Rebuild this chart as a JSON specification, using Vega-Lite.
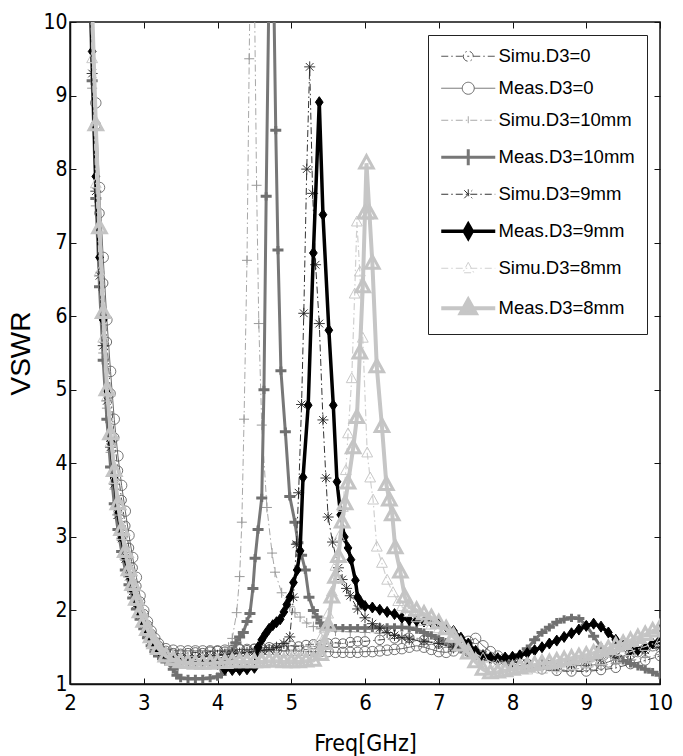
{
"$schema":"https://vega.github.io/schema/vega-lite/v6.json",
"width":590,"height":662,
"autosize":{"type":"none"},
"padding":{"left":70,"top":22,"right":23,"bottom":72},
"background":"white",
"config":{"view":{"stroke":"#111","strokeWidth":1.5},"axis":{"grid":false,"domainColor":"#111","domainWidth":1.5,"tickColor":"#111","labelColor":"black","titleColor":"black","titleFontWeight":"normal","labelOverlap":false}},
"data":{"values":[
{"s":"S0","f":2.25,"v":11.8},{"s":"S0","f":2.3,"v":10.1},{"s":"S0","f":2.35,"v":8.6},{"s":"S0","f":2.4,"v":7.4},{"s":"S0","f":2.45,"v":6.45},{"s":"S0","f":2.5,"v":5.65},{"s":"S0","f":2.55,"v":4.95},{"s":"S0","f":2.6,"v":4.35},{"s":"S0","f":2.65,"v":3.9},{"s":"S0","f":2.7,"v":3.5},{"s":"S0","f":2.75,"v":3.15},{"s":"S0","f":2.8,"v":2.85},{"s":"S0","f":2.85,"v":2.58},{"s":"S0","f":2.9,"v":2.33},{"s":"S0","f":2.95,"v":2.12},{"s":"S0","f":3,"v":1.95},{"s":"S0","f":3.05,"v":1.8},{"s":"S0","f":3.1,"v":1.68},{"s":"S0","f":3.15,"v":1.58},{"s":"S0","f":3.2,"v":1.52},{"s":"S0","f":3.3,"v":1.45},{"s":"S0","f":3.4,"v":1.42},{"s":"S0","f":3.5,"v":1.41},{"s":"S0","f":3.6,"v":1.42},{"s":"S0","f":3.7,"v":1.43},{"s":"S0","f":3.8,"v":1.42},{"s":"S0","f":3.9,"v":1.44},{"s":"S0","f":4,"v":1.45},{"s":"S0","f":4.1,"v":1.44},{"s":"S0","f":4.2,"v":1.46},{"s":"S0","f":4.3,"v":1.47},{"s":"S0","f":4.4,"v":1.46},{"s":"S0","f":4.5,"v":1.48},{"s":"S0","f":4.6,"v":1.49},{"s":"S0","f":4.7,"v":1.5},{"s":"S0","f":4.8,"v":1.49},{"s":"S0","f":4.9,"v":1.51},{"s":"S0","f":5,"v":1.52},{"s":"S0","f":5.1,"v":1.51},{"s":"S0","f":5.2,"v":1.53},{"s":"S0","f":5.3,"v":1.54},{"s":"S0","f":5.4,"v":1.53},{"s":"S0","f":5.5,"v":1.55},{"s":"S0","f":5.6,"v":1.56},{"s":"S0","f":5.7,"v":1.55},{"s":"S0","f":5.8,"v":1.57},{"s":"S0","f":5.9,"v":1.58},{"s":"S0","f":6,"v":1.58},{"s":"S0","f":6.2,"v":1.6},{"s":"S0","f":6.4,"v":1.62},{"s":"S0","f":6.6,"v":1.63},{"s":"S0","f":6.8,"v":1.6},{"s":"S0","f":7,"v":1.55},{"s":"S0","f":7.2,"v":1.5},{"s":"S0","f":7.4,"v":1.44},{"s":"S0","f":7.6,"v":1.38},{"s":"S0","f":7.8,"v":1.32},{"s":"S0","f":8,"v":1.27},{"s":"S0","f":8.2,"v":1.23},{"s":"S0","f":8.4,"v":1.2},{"s":"S0","f":8.6,"v":1.18},{"s":"S0","f":8.8,"v":1.17},{"s":"S0","f":9,"v":1.17},{"s":"S0","f":9.2,"v":1.19},{"s":"S0","f":9.4,"v":1.22},{"s":"S0","f":9.6,"v":1.27},{"s":"S0","f":9.8,"v":1.32},{"s":"S0","f":10,"v":1.38},
{"s":"M0","f":2.25,"v":12},{"s":"M0","f":2.3,"v":10.4},{"s":"M0","f":2.35,"v":8.9},{"s":"M0","f":2.4,"v":7.75},{"s":"M0","f":2.45,"v":6.8},{"s":"M0","f":2.5,"v":5.95},{"s":"M0","f":2.55,"v":5.25},{"s":"M0","f":2.6,"v":4.6},{"s":"M0","f":2.65,"v":4.1},{"s":"M0","f":2.7,"v":3.7},{"s":"M0","f":2.75,"v":3.35},{"s":"M0","f":2.8,"v":3.02},{"s":"M0","f":2.85,"v":2.72},{"s":"M0","f":2.9,"v":2.45},{"s":"M0","f":2.95,"v":2.2},{"s":"M0","f":3,"v":2},{"s":"M0","f":3.05,"v":1.85},{"s":"M0","f":3.1,"v":1.72},{"s":"M0","f":3.15,"v":1.62},{"s":"M0","f":3.2,"v":1.55},{"s":"M0","f":3.3,"v":1.48},{"s":"M0","f":3.4,"v":1.46},{"s":"M0","f":3.5,"v":1.45},{"s":"M0","f":3.6,"v":1.45},{"s":"M0","f":3.7,"v":1.45},{"s":"M0","f":3.8,"v":1.45},{"s":"M0","f":3.9,"v":1.45},{"s":"M0","f":4,"v":1.45},{"s":"M0","f":4.1,"v":1.46},{"s":"M0","f":4.2,"v":1.46},{"s":"M0","f":4.3,"v":1.47},{"s":"M0","f":4.4,"v":1.47},{"s":"M0","f":4.5,"v":1.47},{"s":"M0","f":4.6,"v":1.46},{"s":"M0","f":4.7,"v":1.46},{"s":"M0","f":4.8,"v":1.46},{"s":"M0","f":4.9,"v":1.45},{"s":"M0","f":5,"v":1.45},{"s":"M0","f":5.1,"v":1.45},{"s":"M0","f":5.2,"v":1.44},{"s":"M0","f":5.3,"v":1.44},{"s":"M0","f":5.4,"v":1.44},{"s":"M0","f":5.5,"v":1.44},{"s":"M0","f":5.6,"v":1.43},{"s":"M0","f":5.7,"v":1.43},{"s":"M0","f":5.8,"v":1.43},{"s":"M0","f":5.9,"v":1.43},{"s":"M0","f":6,"v":1.44},{"s":"M0","f":6.1,"v":1.44},{"s":"M0","f":6.2,"v":1.45},{"s":"M0","f":6.3,"v":1.46},{"s":"M0","f":6.4,"v":1.47},{"s":"M0","f":6.5,"v":1.48},{"s":"M0","f":6.6,"v":1.5},{"s":"M0","f":6.7,"v":1.52},{"s":"M0","f":6.8,"v":1.5},{"s":"M0","f":6.9,"v":1.47},{"s":"M0","f":7,"v":1.44},{"s":"M0","f":7.1,"v":1.43},{"s":"M0","f":7.2,"v":1.45},{"s":"M0","f":7.3,"v":1.52},{"s":"M0","f":7.4,"v":1.58},{"s":"M0","f":7.5,"v":1.62},{"s":"M0","f":7.6,"v":1.52},{"s":"M0","f":7.7,"v":1.44},{"s":"M0","f":7.8,"v":1.38},{"s":"M0","f":7.9,"v":1.33},{"s":"M0","f":8,"v":1.3},{"s":"M0","f":8.1,"v":1.28},{"s":"M0","f":8.2,"v":1.27},{"s":"M0","f":8.3,"v":1.26},{"s":"M0","f":8.4,"v":1.26},{"s":"M0","f":8.5,"v":1.25},{"s":"M0","f":8.6,"v":1.25},{"s":"M0","f":8.7,"v":1.25},{"s":"M0","f":8.8,"v":1.25},{"s":"M0","f":8.9,"v":1.25},{"s":"M0","f":9,"v":1.25},{"s":"M0","f":9.1,"v":1.26},{"s":"M0","f":9.2,"v":1.27},{"s":"M0","f":9.3,"v":1.3},{"s":"M0","f":9.4,"v":1.34},{"s":"M0","f":9.5,"v":1.38},{"s":"M0","f":9.6,"v":1.41},{"s":"M0","f":9.7,"v":1.44},{"s":"M0","f":9.8,"v":1.48},{"s":"M0","f":9.9,"v":1.52},{"s":"M0","f":10,"v":1.56},
{"s":"S10","f":2.25,"v":11},{"s":"S10","f":2.3,"v":9.1},{"s":"S10","f":2.35,"v":7.5},{"s":"S10","f":2.4,"v":6.4},{"s":"S10","f":2.45,"v":5.5},{"s":"S10","f":2.5,"v":4.75},{"s":"S10","f":2.55,"v":4.15},{"s":"S10","f":2.6,"v":3.65},{"s":"S10","f":2.65,"v":3.25},{"s":"S10","f":2.7,"v":2.95},{"s":"S10","f":2.75,"v":2.68},{"s":"S10","f":2.8,"v":2.45},{"s":"S10","f":2.85,"v":2.25},{"s":"S10","f":2.9,"v":2.08},{"s":"S10","f":2.95,"v":1.93},{"s":"S10","f":3,"v":1.8},{"s":"S10","f":3.05,"v":1.68},{"s":"S10","f":3.1,"v":1.58},{"s":"S10","f":3.15,"v":1.5},{"s":"S10","f":3.2,"v":1.44},{"s":"S10","f":3.3,"v":1.37},{"s":"S10","f":3.4,"v":1.33},{"s":"S10","f":3.5,"v":1.31},{"s":"S10","f":3.6,"v":1.3},{"s":"S10","f":3.7,"v":1.3},{"s":"S10","f":3.8,"v":1.31},{"s":"S10","f":3.9,"v":1.33},{"s":"S10","f":4,"v":1.36},{"s":"S10","f":4.1,"v":1.42},{"s":"S10","f":4.15,"v":1.5},{"s":"S10","f":4.2,"v":1.62},{"s":"S10","f":4.26,"v":1.97},{"s":"S10","f":4.3,"v":2.46},{"s":"S10","f":4.33,"v":3.2},{"s":"S10","f":4.36,"v":4.6},{"s":"S10","f":4.4,"v":6.76},{"s":"S10","f":4.43,"v":9.5},{"s":"S10","f":4.47,"v":13},{"s":"S10","f":4.5,"v":10.5},{"s":"S10","f":4.53,"v":7.78},{"s":"S10","f":4.56,"v":5.9},{"s":"S10","f":4.6,"v":4.52},{"s":"S10","f":4.67,"v":3.4},{"s":"S10","f":4.74,"v":2.78},{"s":"S10","f":4.78,"v":2.52},{"s":"S10","f":4.87,"v":2.24},{"s":"S10","f":4.98,"v":2.05},{"s":"S10","f":5.05,"v":1.97},{"s":"S10","f":5.12,"v":1.91},{"s":"S10","f":5.21,"v":1.83},{"s":"S10","f":5.3,"v":1.78},{"s":"S10","f":5.4,"v":1.75},{"s":"S10","f":5.5,"v":1.73},{"s":"S10","f":5.6,"v":1.72},{"s":"S10","f":5.8,"v":1.71},{"s":"S10","f":6,"v":1.7},{"s":"S10","f":6.2,"v":1.69},{"s":"S10","f":6.4,"v":1.67},{"s":"S10","f":6.6,"v":1.65},{"s":"S10","f":6.8,"v":1.6},{"s":"S10","f":7,"v":1.55},{"s":"S10","f":7.2,"v":1.48},{"s":"S10","f":7.4,"v":1.42},{"s":"S10","f":7.6,"v":1.35},{"s":"S10","f":7.8,"v":1.3},{"s":"S10","f":8,"v":1.26},{"s":"S10","f":8.2,"v":1.23},{"s":"S10","f":8.4,"v":1.21},{"s":"S10","f":8.6,"v":1.2},{"s":"S10","f":8.8,"v":1.2},{"s":"S10","f":9,"v":1.22},{"s":"S10","f":9.2,"v":1.25},{"s":"S10","f":9.4,"v":1.28},{"s":"S10","f":9.6,"v":1.32},{"s":"S10","f":9.8,"v":1.36},{"s":"S10","f":10,"v":1.4},
{"s":"M10","f":2.25,"v":11},{"s":"M10","f":2.3,"v":9.2},{"s":"M10","f":2.35,"v":7.6},{"s":"M10","f":2.4,"v":6.4},{"s":"M10","f":2.45,"v":5.4},{"s":"M10","f":2.5,"v":4.6},{"s":"M10","f":2.55,"v":3.95},{"s":"M10","f":2.6,"v":3.45},{"s":"M10","f":2.65,"v":3.1},{"s":"M10","f":2.7,"v":2.8},{"s":"M10","f":2.75,"v":2.55},{"s":"M10","f":2.8,"v":2.35},{"s":"M10","f":2.85,"v":2.17},{"s":"M10","f":2.9,"v":2.02},{"s":"M10","f":2.95,"v":1.88},{"s":"M10","f":3,"v":1.75},{"s":"M10","f":3.05,"v":1.63},{"s":"M10","f":3.1,"v":1.52},{"s":"M10","f":3.15,"v":1.44},{"s":"M10","f":3.2,"v":1.38},{"s":"M10","f":3.3,"v":1.3},{"s":"M10","f":3.4,"v":1.2},{"s":"M10","f":3.45,"v":1.12},{"s":"M10","f":3.5,"v":1.08},{"s":"M10","f":3.6,"v":1.07},{"s":"M10","f":3.7,"v":1.07},{"s":"M10","f":3.8,"v":1.07},{"s":"M10","f":3.9,"v":1.08},{"s":"M10","f":4,"v":1.1},{"s":"M10","f":4.05,"v":1.13},{"s":"M10","f":4.1,"v":1.2},{"s":"M10","f":4.15,"v":1.32},{"s":"M10","f":4.2,"v":1.45},{"s":"M10","f":4.25,"v":1.56},{"s":"M10","f":4.3,"v":1.64},{"s":"M10","f":4.35,"v":1.7},{"s":"M10","f":4.4,"v":1.85},{"s":"M10","f":4.44,"v":1.96},{"s":"M10","f":4.48,"v":2.3},{"s":"M10","f":4.51,"v":2.71},{"s":"M10","f":4.55,"v":3.1},{"s":"M10","f":4.6,"v":3.53},{"s":"M10","f":4.63,"v":5},{"s":"M10","f":4.66,"v":7.63},{"s":"M10","f":4.7,"v":10.6},{"s":"M10","f":4.73,"v":12},{"s":"M10","f":4.76,"v":10.6},{"s":"M10","f":4.79,"v":8.53},{"s":"M10","f":4.82,"v":6.9},{"s":"M10","f":4.86,"v":5.26},{"s":"M10","f":4.92,"v":4.43},{"s":"M10","f":4.98,"v":3.55},{"s":"M10","f":5.05,"v":3.2},{"s":"M10","f":5.09,"v":2.92},{"s":"M10","f":5.14,"v":2.75},{"s":"M10","f":5.19,"v":2.55},{"s":"M10","f":5.24,"v":2.18},{"s":"M10","f":5.3,"v":2},{"s":"M10","f":5.35,"v":1.91},{"s":"M10","f":5.4,"v":1.83},{"s":"M10","f":5.45,"v":1.79},{"s":"M10","f":5.5,"v":1.77},{"s":"M10","f":5.6,"v":1.76},{"s":"M10","f":5.7,"v":1.76},{"s":"M10","f":5.8,"v":1.76},{"s":"M10","f":5.9,"v":1.76},{"s":"M10","f":6,"v":1.76},{"s":"M10","f":6.1,"v":1.76},{"s":"M10","f":6.2,"v":1.77},{"s":"M10","f":6.3,"v":1.77},{"s":"M10","f":6.4,"v":1.77},{"s":"M10","f":6.5,"v":1.77},{"s":"M10","f":6.6,"v":1.76},{"s":"M10","f":6.7,"v":1.74},{"s":"M10","f":6.8,"v":1.7},{"s":"M10","f":6.9,"v":1.66},{"s":"M10","f":7,"v":1.62},{"s":"M10","f":7.1,"v":1.57},{"s":"M10","f":7.2,"v":1.52},{"s":"M10","f":7.3,"v":1.47},{"s":"M10","f":7.4,"v":1.42},{"s":"M10","f":7.5,"v":1.38},{"s":"M10","f":7.6,"v":1.35},{"s":"M10","f":7.7,"v":1.33},{"s":"M10","f":7.8,"v":1.32},{"s":"M10","f":7.9,"v":1.33},{"s":"M10","f":8,"v":1.35},{"s":"M10","f":8.1,"v":1.4},{"s":"M10","f":8.2,"v":1.48},{"s":"M10","f":8.3,"v":1.6},{"s":"M10","f":8.4,"v":1.7},{"s":"M10","f":8.5,"v":1.77},{"s":"M10","f":8.6,"v":1.84},{"s":"M10","f":8.7,"v":1.88},{"s":"M10","f":8.8,"v":1.9},{"s":"M10","f":8.9,"v":1.89},{"s":"M10","f":9,"v":1.8},{"s":"M10","f":9.1,"v":1.65},{"s":"M10","f":9.2,"v":1.5},{"s":"M10","f":9.3,"v":1.42},{"s":"M10","f":9.4,"v":1.37},{"s":"M10","f":9.5,"v":1.32},{"s":"M10","f":9.6,"v":1.28},{"s":"M10","f":9.7,"v":1.24},{"s":"M10","f":9.8,"v":1.2},{"s":"M10","f":9.9,"v":1.16},{"s":"M10","f":10,"v":1.12},
{"s":"S9","f":2.25,"v":11.2},{"s":"S9","f":2.3,"v":9.3},{"s":"S9","f":2.35,"v":7.7},{"s":"S9","f":2.4,"v":6.55},{"s":"S9","f":2.45,"v":5.6},{"s":"S9","f":2.5,"v":4.85},{"s":"S9","f":2.55,"v":4.22},{"s":"S9","f":2.6,"v":3.72},{"s":"S9","f":2.65,"v":3.3},{"s":"S9","f":2.7,"v":2.98},{"s":"S9","f":2.75,"v":2.7},{"s":"S9","f":2.8,"v":2.46},{"s":"S9","f":2.85,"v":2.26},{"s":"S9","f":2.9,"v":2.09},{"s":"S9","f":2.95,"v":1.94},{"s":"S9","f":3,"v":1.81},{"s":"S9","f":3.05,"v":1.7},{"s":"S9","f":3.1,"v":1.6},{"s":"S9","f":3.15,"v":1.52},{"s":"S9","f":3.2,"v":1.46},{"s":"S9","f":3.3,"v":1.39},{"s":"S9","f":3.4,"v":1.36},{"s":"S9","f":3.5,"v":1.35},{"s":"S9","f":3.6,"v":1.35},{"s":"S9","f":3.7,"v":1.36},{"s":"S9","f":3.8,"v":1.37},{"s":"S9","f":3.9,"v":1.38},{"s":"S9","f":4,"v":1.39},{"s":"S9","f":4.1,"v":1.4},{"s":"S9","f":4.2,"v":1.41},{"s":"S9","f":4.3,"v":1.42},{"s":"S9","f":4.4,"v":1.43},{"s":"S9","f":4.5,"v":1.44},{"s":"S9","f":4.6,"v":1.45},{"s":"S9","f":4.7,"v":1.47},{"s":"S9","f":4.8,"v":1.5},{"s":"S9","f":4.9,"v":1.55},{"s":"S9","f":4.98,"v":1.64},{"s":"S9","f":5.03,"v":2.18},{"s":"S9","f":5.07,"v":2.9},{"s":"S9","f":5.1,"v":3.6},{"s":"S9","f":5.14,"v":4.8},{"s":"S9","f":5.17,"v":6.04},{"s":"S9","f":5.21,"v":8},{"s":"S9","f":5.25,"v":9.39},{"s":"S9","f":5.29,"v":7.67},{"s":"S9","f":5.33,"v":6.7},{"s":"S9","f":5.38,"v":5.9},{"s":"S9","f":5.43,"v":4.59},{"s":"S9","f":5.47,"v":3.8},{"s":"S9","f":5.5,"v":3.27},{"s":"S9","f":5.56,"v":2.93},{"s":"S9","f":5.64,"v":2.58},{"s":"S9","f":5.69,"v":2.42},{"s":"S9","f":5.75,"v":2.3},{"s":"S9","f":5.8,"v":2.2},{"s":"S9","f":5.9,"v":2.02},{"s":"S9","f":6,"v":1.9},{"s":"S9","f":6.1,"v":1.82},{"s":"S9","f":6.2,"v":1.76},{"s":"S9","f":6.3,"v":1.7},{"s":"S9","f":6.4,"v":1.66},{"s":"S9","f":6.5,"v":1.63},{"s":"S9","f":6.6,"v":1.61},{"s":"S9","f":6.8,"v":1.58},{"s":"S9","f":7,"v":1.55},{"s":"S9","f":7.2,"v":1.5},{"s":"S9","f":7.4,"v":1.45},{"s":"S9","f":7.6,"v":1.4},{"s":"S9","f":7.8,"v":1.35},{"s":"S9","f":8,"v":1.3},{"s":"S9","f":8.2,"v":1.27},{"s":"S9","f":8.4,"v":1.25},{"s":"S9","f":8.6,"v":1.25},{"s":"S9","f":8.8,"v":1.27},{"s":"S9","f":9,"v":1.3},{"s":"S9","f":9.2,"v":1.33},{"s":"S9","f":9.4,"v":1.37},{"s":"S9","f":9.6,"v":1.41},{"s":"S9","f":9.8,"v":1.46},{"s":"S9","f":10,"v":1.5},
{"s":"M9","f":2.25,"v":11.5},{"s":"M9","f":2.3,"v":9.6},{"s":"M9","f":2.35,"v":7.9},{"s":"M9","f":2.4,"v":6.8},{"s":"M9","f":2.45,"v":5.95},{"s":"M9","f":2.5,"v":5},{"s":"M9","f":2.55,"v":4.3},{"s":"M9","f":2.6,"v":3.8},{"s":"M9","f":2.65,"v":3.35},{"s":"M9","f":2.7,"v":3},{"s":"M9","f":2.75,"v":2.72},{"s":"M9","f":2.8,"v":2.48},{"s":"M9","f":2.85,"v":2.28},{"s":"M9","f":2.9,"v":2.1},{"s":"M9","f":2.95,"v":1.95},{"s":"M9","f":3,"v":1.82},{"s":"M9","f":3.05,"v":1.7},{"s":"M9","f":3.1,"v":1.6},{"s":"M9","f":3.15,"v":1.52},{"s":"M9","f":3.2,"v":1.46},{"s":"M9","f":3.3,"v":1.38},{"s":"M9","f":3.4,"v":1.34},{"s":"M9","f":3.5,"v":1.32},{"s":"M9","f":3.6,"v":1.31},{"s":"M9","f":3.7,"v":1.3},{"s":"M9","f":3.8,"v":1.3},{"s":"M9","f":3.9,"v":1.29},{"s":"M9","f":4,"v":1.27},{"s":"M9","f":4.1,"v":1.2},{"s":"M9","f":4.2,"v":1.19},{"s":"M9","f":4.3,"v":1.19},{"s":"M9","f":4.4,"v":1.2},{"s":"M9","f":4.5,"v":1.22},{"s":"M9","f":4.55,"v":1.5},{"s":"M9","f":4.6,"v":1.6},{"s":"M9","f":4.65,"v":1.68},{"s":"M9","f":4.7,"v":1.75},{"s":"M9","f":4.75,"v":1.8},{"s":"M9","f":4.8,"v":1.84},{"s":"M9","f":4.85,"v":1.88},{"s":"M9","f":4.9,"v":1.98},{"s":"M9","f":4.94,"v":2.08},{"s":"M9","f":4.98,"v":2.18},{"s":"M9","f":5.03,"v":2.38},{"s":"M9","f":5.08,"v":2.55},{"s":"M9","f":5.12,"v":2.81},{"s":"M9","f":5.16,"v":3.81},{"s":"M9","f":5.23,"v":4.79},{"s":"M9","f":5.3,"v":6.86},{"s":"M9","f":5.38,"v":8.91},{"s":"M9","f":5.43,"v":7.38},{"s":"M9","f":5.51,"v":5.81},{"s":"M9","f":5.57,"v":4.79},{"s":"M9","f":5.62,"v":3.75},{"s":"M9","f":5.67,"v":3.3},{"s":"M9","f":5.72,"v":3},{"s":"M9","f":5.77,"v":2.85},{"s":"M9","f":5.81,"v":2.69},{"s":"M9","f":5.87,"v":2.41},{"s":"M9","f":5.9,"v":2.18},{"s":"M9","f":5.95,"v":2.1},{"s":"M9","f":6,"v":2.06},{"s":"M9","f":6.1,"v":2.04},{"s":"M9","f":6.2,"v":2.01},{"s":"M9","f":6.3,"v":1.98},{"s":"M9","f":6.4,"v":1.95},{"s":"M9","f":6.5,"v":1.9},{"s":"M9","f":6.6,"v":1.87},{"s":"M9","f":6.7,"v":1.86},{"s":"M9","f":6.8,"v":1.85},{"s":"M9","f":6.9,"v":1.84},{"s":"M9","f":7,"v":1.83},{"s":"M9","f":7.1,"v":1.78},{"s":"M9","f":7.2,"v":1.72},{"s":"M9","f":7.3,"v":1.63},{"s":"M9","f":7.4,"v":1.55},{"s":"M9","f":7.5,"v":1.45},{"s":"M9","f":7.6,"v":1.38},{"s":"M9","f":7.7,"v":1.36},{"s":"M9","f":7.8,"v":1.35},{"s":"M9","f":7.9,"v":1.36},{"s":"M9","f":8,"v":1.37},{"s":"M9","f":8.1,"v":1.39},{"s":"M9","f":8.2,"v":1.42},{"s":"M9","f":8.3,"v":1.46},{"s":"M9","f":8.4,"v":1.5},{"s":"M9","f":8.5,"v":1.55},{"s":"M9","f":8.6,"v":1.59},{"s":"M9","f":8.7,"v":1.64},{"s":"M9","f":8.8,"v":1.69},{"s":"M9","f":8.9,"v":1.74},{"s":"M9","f":9,"v":1.79},{"s":"M9","f":9.1,"v":1.82},{"s":"M9","f":9.2,"v":1.78},{"s":"M9","f":9.3,"v":1.7},{"s":"M9","f":9.4,"v":1.6},{"s":"M9","f":9.5,"v":1.52},{"s":"M9","f":9.6,"v":1.47},{"s":"M9","f":9.7,"v":1.46},{"s":"M9","f":9.8,"v":1.5},{"s":"M9","f":9.9,"v":1.55},{"s":"M9","f":10,"v":1.6},
{"s":"S8","f":2.25,"v":11.3},{"s":"S8","f":2.3,"v":9.5},{"s":"S8","f":2.35,"v":7.8},{"s":"S8","f":2.4,"v":6.6},{"s":"S8","f":2.45,"v":5.7},{"s":"S8","f":2.5,"v":4.9},{"s":"S8","f":2.55,"v":4.28},{"s":"S8","f":2.6,"v":3.78},{"s":"S8","f":2.65,"v":3.35},{"s":"S8","f":2.7,"v":3.02},{"s":"S8","f":2.75,"v":2.74},{"s":"S8","f":2.8,"v":2.5},{"s":"S8","f":2.85,"v":2.29},{"s":"S8","f":2.9,"v":2.12},{"s":"S8","f":2.95,"v":1.97},{"s":"S8","f":3,"v":1.84},{"s":"S8","f":3.05,"v":1.72},{"s":"S8","f":3.1,"v":1.62},{"s":"S8","f":3.15,"v":1.54},{"s":"S8","f":3.2,"v":1.47},{"s":"S8","f":3.3,"v":1.39},{"s":"S8","f":3.4,"v":1.35},{"s":"S8","f":3.5,"v":1.33},{"s":"S8","f":3.6,"v":1.32},{"s":"S8","f":3.7,"v":1.32},{"s":"S8","f":3.8,"v":1.32},{"s":"S8","f":3.9,"v":1.33},{"s":"S8","f":4,"v":1.33},{"s":"S8","f":4.2,"v":1.34},{"s":"S8","f":4.4,"v":1.35},{"s":"S8","f":4.6,"v":1.36},{"s":"S8","f":4.8,"v":1.37},{"s":"S8","f":5,"v":1.39},{"s":"S8","f":5.1,"v":1.41},{"s":"S8","f":5.2,"v":1.45},{"s":"S8","f":5.3,"v":1.52},{"s":"S8","f":5.4,"v":1.62},{"s":"S8","f":5.45,"v":1.75},{"s":"S8","f":5.5,"v":1.95},{"s":"S8","f":5.55,"v":2.25},{"s":"S8","f":5.6,"v":2.6},{"s":"S8","f":5.65,"v":3},{"s":"S8","f":5.7,"v":3.4},{"s":"S8","f":5.74,"v":3.9},{"s":"S8","f":5.77,"v":4.4},{"s":"S8","f":5.82,"v":5.15},{"s":"S8","f":5.86,"v":6.3},{"s":"S8","f":5.89,"v":7.28},{"s":"S8","f":5.93,"v":6.6},{"s":"S8","f":5.97,"v":5.7},{"s":"S8","f":6.03,"v":4.14},{"s":"S8","f":6.07,"v":3.8},{"s":"S8","f":6.11,"v":3.5},{"s":"S8","f":6.16,"v":2.86},{"s":"S8","f":6.23,"v":2.64},{"s":"S8","f":6.3,"v":2.41},{"s":"S8","f":6.38,"v":2.24},{"s":"S8","f":6.45,"v":2.12},{"s":"S8","f":6.5,"v":2.05},{"s":"S8","f":6.6,"v":1.97},{"s":"S8","f":6.7,"v":1.9},{"s":"S8","f":6.8,"v":1.85},{"s":"S8","f":6.9,"v":1.8},{"s":"S8","f":7,"v":1.75},{"s":"S8","f":7.2,"v":1.62},{"s":"S8","f":7.4,"v":1.48},{"s":"S8","f":7.6,"v":1.35},{"s":"S8","f":7.8,"v":1.26},{"s":"S8","f":8,"v":1.2},{"s":"S8","f":8.2,"v":1.19},{"s":"S8","f":8.4,"v":1.2},{"s":"S8","f":8.6,"v":1.22},{"s":"S8","f":8.8,"v":1.25},{"s":"S8","f":9,"v":1.28},{"s":"S8","f":9.2,"v":1.32},{"s":"S8","f":9.4,"v":1.38},{"s":"S8","f":9.6,"v":1.44},{"s":"S8","f":9.8,"v":1.51},{"s":"S8","f":10,"v":1.58},
{"s":"M8","f":2.25,"v":12},{"s":"M8","f":2.3,"v":10.2},{"s":"M8","f":2.35,"v":8.6},{"s":"M8","f":2.4,"v":7.2},{"s":"M8","f":2.45,"v":6.05},{"s":"M8","f":2.5,"v":5},{"s":"M8","f":2.55,"v":4.4},{"s":"M8","f":2.6,"v":3.9},{"s":"M8","f":2.65,"v":3.45},{"s":"M8","f":2.7,"v":3.1},{"s":"M8","f":2.75,"v":2.8},{"s":"M8","f":2.8,"v":2.55},{"s":"M8","f":2.85,"v":2.35},{"s":"M8","f":2.9,"v":2.15},{"s":"M8","f":2.95,"v":1.98},{"s":"M8","f":3,"v":1.85},{"s":"M8","f":3.05,"v":1.74},{"s":"M8","f":3.1,"v":1.64},{"s":"M8","f":3.15,"v":1.56},{"s":"M8","f":3.2,"v":1.48},{"s":"M8","f":3.3,"v":1.38},{"s":"M8","f":3.4,"v":1.33},{"s":"M8","f":3.5,"v":1.3},{"s":"M8","f":3.6,"v":1.29},{"s":"M8","f":3.7,"v":1.28},{"s":"M8","f":3.8,"v":1.28},{"s":"M8","f":3.9,"v":1.28},{"s":"M8","f":4,"v":1.29},{"s":"M8","f":4.1,"v":1.29},{"s":"M8","f":4.2,"v":1.3},{"s":"M8","f":4.3,"v":1.3},{"s":"M8","f":4.4,"v":1.3},{"s":"M8","f":4.5,"v":1.3},{"s":"M8","f":4.6,"v":1.3},{"s":"M8","f":4.7,"v":1.31},{"s":"M8","f":4.8,"v":1.31},{"s":"M8","f":4.9,"v":1.3},{"s":"M8","f":5,"v":1.3},{"s":"M8","f":5.1,"v":1.3},{"s":"M8","f":5.2,"v":1.31},{"s":"M8","f":5.3,"v":1.32},{"s":"M8","f":5.4,"v":1.4},{"s":"M8","f":5.45,"v":1.55},{"s":"M8","f":5.5,"v":1.8},{"s":"M8","f":5.55,"v":2.18},{"s":"M8","f":5.6,"v":2.45},{"s":"M8","f":5.64,"v":2.73},{"s":"M8","f":5.69,"v":3.2},{"s":"M8","f":5.73,"v":3.45},{"s":"M8","f":5.77,"v":3.73},{"s":"M8","f":5.84,"v":4.21},{"s":"M8","f":5.89,"v":4.62},{"s":"M8","f":5.93,"v":5.5},{"s":"M8","f":5.97,"v":6.4},{"s":"M8","f":6,"v":7.4},{"s":"M8","f":6.02,"v":8.08},{"s":"M8","f":6.06,"v":7.4},{"s":"M8","f":6.1,"v":6.72},{"s":"M8","f":6.16,"v":5.31},{"s":"M8","f":6.23,"v":4.5},{"s":"M8","f":6.29,"v":3.71},{"s":"M8","f":6.33,"v":3.5},{"s":"M8","f":6.37,"v":3.3},{"s":"M8","f":6.41,"v":2.85},{"s":"M8","f":6.48,"v":2.52},{"s":"M8","f":6.54,"v":2.18},{"s":"M8","f":6.6,"v":2.05},{"s":"M8","f":6.7,"v":2},{"s":"M8","f":6.8,"v":1.95},{"s":"M8","f":6.9,"v":1.9},{"s":"M8","f":7,"v":1.83},{"s":"M8","f":7.1,"v":1.75},{"s":"M8","f":7.2,"v":1.65},{"s":"M8","f":7.3,"v":1.53},{"s":"M8","f":7.4,"v":1.42},{"s":"M8","f":7.5,"v":1.3},{"s":"M8","f":7.6,"v":1.2},{"s":"M8","f":7.7,"v":1.15},{"s":"M8","f":7.8,"v":1.16},{"s":"M8","f":7.9,"v":1.18},{"s":"M8","f":8,"v":1.2},{"s":"M8","f":8.1,"v":1.22},{"s":"M8","f":8.2,"v":1.24},{"s":"M8","f":8.3,"v":1.26},{"s":"M8","f":8.4,"v":1.28},{"s":"M8","f":8.5,"v":1.29},{"s":"M8","f":8.6,"v":1.31},{"s":"M8","f":8.7,"v":1.33},{"s":"M8","f":8.8,"v":1.35},{"s":"M8","f":8.9,"v":1.37},{"s":"M8","f":9,"v":1.39},{"s":"M8","f":9.1,"v":1.42},{"s":"M8","f":9.2,"v":1.45},{"s":"M8","f":9.3,"v":1.48},{"s":"M8","f":9.4,"v":1.52},{"s":"M8","f":9.5,"v":1.55},{"s":"M8","f":9.6,"v":1.59},{"s":"M8","f":9.7,"v":1.63},{"s":"M8","f":9.8,"v":1.67},{"s":"M8","f":9.9,"v":1.72},{"s":"M8","f":10,"v":1.76}
]},
"resolve":{"axis":{"x":"independent","y":"independent"}},
"layer":[
{
"encoding":{
"x":{"field":"f","type":"quantitative","scale":{"domain":[2,10],"nice":false,"zero":false},"axis":{"values":[2,3,4,5,6,7,8,9,10],"format":"d","title":"Freq[GHz]","tickSize":-6,"labelPadding":14,"titlePadding":19,"labelFontSize":22,"titleFontSize":23,"labelFont":"DejaVu Sans Condensed, Liberation Sans","titleFont":"DejaVu Sans Condensed, Liberation Sans","labelFlush":false}},
"y":{"field":"v","type":"quantitative","scale":{"domain":[1,10],"nice":false,"zero":false},"axis":{"values":[1,2,3,4,5,6,7,8,9,10],"format":"d","title":"VSWR","tickSize":-6,"labelPadding":9,"titlePadding":7,"labelFontSize":21,"titleFontSize":28,"labelFont":"DejaVu Sans Condensed, Liberation Sans","titleFont":"Liberation Sans"}}
},
"layer":[
{"transform":[{"filter":"datum.s==='S0'"}],"mark":{"type":"line","clip":true,"strokeWidth":1,"strokeDash":[7,3,1.5,3]},
"encoding":{"color":{"field":"s","type":"nominal","scale":{"domain":["S0","M0","S10","M10","S9","M9","S8","M8"],"range":["#555555","#6a6a6a","#a8a8a8","#777777","#333333","#000000","#d0d0d0","#c6c6c6"]},
"legend":{"title":null,"orient":"top-right","offset":13,"padding":12,"strokeColor":"#222","fillColor":"white","labelFont":"Liberation Sans","labelFontSize":18.5,"labelColor":"black","labelLimit":300,"symbolSize":400,"symbolOffset":19,"labelOffset":21,"rowPadding":13,
"labelExpr":"datum.value==='S0'?'Simu.D3=0':datum.value==='M0'?'Meas.D3=0':datum.value==='S10'?'Simu.D3=10mm':datum.value==='M10'?'Meas.D3=10mm':datum.value==='S9'?'Simu.D3=9mm':datum.value==='M9'?'Meas.D3=9mm':datum.value==='S8'?'Simu.D3=8mm':'Meas.D3=8mm'",
"encode":{"symbols":{"update":{
"shape":{"signal":"datum.value==='S0'?'M-2.7,0H-0.5M0.5,0H2.7M-0.5,0A0.5,0.5 0 1,0 0.5,0A0.5,0.5 0 1,0 -0.5,0M-0.1,0H0.1':datum.value==='M0'?'M-2.7,0H-0.6M0.6,0H2.7M-0.6,0A0.6,0.6 0 1,0 0.6,0A0.6,0.6 0 1,0 -0.6,0':datum.value==='S10'?'M-2.7,0H2.7M0,-0.4V0.4':datum.value==='M10'?'M-2.7,0H2.7M0,-0.8V0.8':datum.value==='S9'?'M-2.7,0H2.7M0,-0.5V0.5M-0.4,-0.4L0.4,0.4M-0.4,0.4L0.4,-0.4':datum.value==='M9'?'M-2.7,0H2.7M0,-0.7L0.4,0L0,0.7L-0.4,0Z':datum.value==='S8'?'M-2.7,0H2.7M0,-0.6L0.55,0.45L-0.55,0.45Z':'M-2.7,0H2.7M0,-0.85L0.75,0.5L-0.75,0.5Z'"},
"strokeDash":{"signal":"indexof(datum.value,'S')===0?[7,3,1.5,3]:[1,0]"},
"strokeWidth":{"signal":"datum.value==='M10'?3:datum.value==='M9'?3.5:datum.value==='M8'?4:1"},
"fill":{"signal":"datum.value==='M9'?'#000000':datum.value==='M8'?'#c6c6c6':'transparent'"},
"stroke":{"signal":"scale('color',datum.value)"},
"size":{"value":400},
"opacity":{"value":1}
}}}}}}},
{"transform":[{"filter":"datum.s==='S0'"}],"mark":{"type":"point","clip":true,"shape":"M-1,0A1,1 0 1,0 1,0A1,1 0 1,0 -1,0M-0.15,0H0.15","size":90,"filled":false,"stroke":"#444444","strokeWidth":0.8,"opacity":1}},
{"transform":[{"filter":"datum.s==='M0'"}],"mark":{"type":"line","clip":true,"strokeWidth":1},"encoding":{"color":{"field":"s","type":"nominal","scale":{"domain":["S0","M0","S10","M10","S9","M9","S8","M8"],"range":["#555555","#6a6a6a","#a8a8a8","#777777","#333333","#000000","#d0d0d0","#c6c6c6"]},"legend":null}}},
{"transform":[{"filter":"datum.s==='M0'"}],"mark":{"type":"point","clip":true,"shape":"circle","size":110,"filled":false,"stroke":"#555555","strokeWidth":0.8,"opacity":1}},
{"transform":[{"filter":"datum.s==='S10'"}],"mark":{"type":"line","clip":true,"strokeWidth":1,"strokeDash":[7,3,1.5,3]},"encoding":{"color":{"field":"s","type":"nominal","scale":{"domain":["S0","M0","S10","M10","S9","M9","S8","M8"],"range":["#555555","#6a6a6a","#a8a8a8","#777777","#333333","#000000","#d0d0d0","#c6c6c6"]},"legend":null}}},
{"transform":[{"filter":"datum.s==='S10'"}],"mark":{"type":"point","clip":true,"shape":"M-1,0H1M0,-1V1","size":100,"filled":false,"stroke":"#999999","strokeWidth":1,"opacity":1}},
{"transform":[{"filter":"datum.s==='M10'"}],"mark":{"type":"line","clip":true,"strokeWidth":3},"encoding":{"color":{"field":"s","type":"nominal","scale":{"domain":["S0","M0","S10","M10","S9","M9","S8","M8"],"range":["#555555","#6a6a6a","#a8a8a8","#777777","#333333","#000000","#d0d0d0","#c6c6c6"]},"legend":null}}},
{"transform":[{"filter":"datum.s==='M10'"}],"mark":{"type":"point","clip":true,"shape":"M-1,0H1M0,-0.75V0.75","size":121,"filled":false,"stroke":"#707070","strokeWidth":3,"opacity":1}},
{"transform":[{"filter":"datum.s==='S9'"}],"mark":{"type":"line","clip":true,"strokeWidth":1,"strokeDash":[7,3,1.5,3]},"encoding":{"color":{"field":"s","type":"nominal","scale":{"domain":["S0","M0","S10","M10","S9","M9","S8","M8"],"range":["#555555","#6a6a6a","#a8a8a8","#777777","#333333","#000000","#d0d0d0","#c6c6c6"]},"legend":null}}},
{"transform":[{"filter":"datum.s==='S9'"}],"mark":{"type":"point","clip":true,"shape":"M-1,0H1M0,-1V1M-0.7,-0.7L0.7,0.7M-0.7,0.7L0.7,-0.7","size":121,"filled":false,"stroke":"#222222","strokeWidth":0.9,"opacity":1}},
{"transform":[{"filter":"datum.s==='M9'"}],"mark":{"type":"line","clip":true,"strokeWidth":3.5},"encoding":{"color":{"field":"s","type":"nominal","scale":{"domain":["S0","M0","S10","M10","S9","M9","S8","M8"],"range":["#555555","#6a6a6a","#a8a8a8","#777777","#333333","#000000","#d0d0d0","#c6c6c6"]},"legend":null}}},
{"transform":[{"filter":"datum.s==='M9'"}],"mark":{"type":"point","clip":true,"shape":"M0,-1L0.7,0L0,1L-0.7,0Z","size":121,"filled":true,"fill":"#000000","stroke":"#000000","strokeWidth":1,"opacity":1}},
{"transform":[{"filter":"datum.s==='S8'"}],"mark":{"type":"line","clip":true,"strokeWidth":1.2,"strokeDash":[7,3,1.5,3]},"encoding":{"color":{"field":"s","type":"nominal","scale":{"domain":["S0","M0","S10","M10","S9","M9","S8","M8"],"range":["#555555","#6a6a6a","#a8a8a8","#777777","#333333","#000000","#d0d0d0","#c6c6c6"]},"legend":null}}},
{"transform":[{"filter":"datum.s==='S8'"}],"mark":{"type":"point","clip":true,"shape":"M0,-1L0.9,0.65L-0.9,0.65Z","size":144,"filled":false,"stroke":"#c8c8c8","strokeWidth":1,"opacity":1}},
{"transform":[{"filter":"datum.s==='M8'"}],"mark":{"type":"line","clip":true,"strokeWidth":4},"encoding":{"color":{"field":"s","type":"nominal","scale":{"domain":["S0","M0","S10","M10","S9","M9","S8","M8"],"range":["#555555","#6a6a6a","#a8a8a8","#777777","#333333","#000000","#d0d0d0","#c6c6c6"]},"legend":null}}},
{"transform":[{"filter":"datum.s==='M8'"}],"mark":{"type":"point","clip":true,"shape":"M0,-1L0.9,0.65L-0.9,0.65Z","size":225,"filled":false,"stroke":"#c4c4c4","strokeWidth":3,"opacity":1}}
]
},
{"mark":{"type":"point","opacity":0},
"encoding":{
"x":{"field":"f","type":"quantitative","scale":{"domain":[2,10],"nice":false,"zero":false},"axis":{"orient":"top","values":[2,3,4,5,6,7,8,9,10],"labels":false,"title":null,"tickSize":-6,"domain":false}},
"y":{"field":"v","type":"quantitative","scale":{"domain":[1,10],"nice":false,"zero":false},"axis":{"orient":"right","values":[1,2,3,4,5,6,7,8,9,10],"labels":false,"title":null,"tickSize":-6,"domain":false}}
}}
]
}
